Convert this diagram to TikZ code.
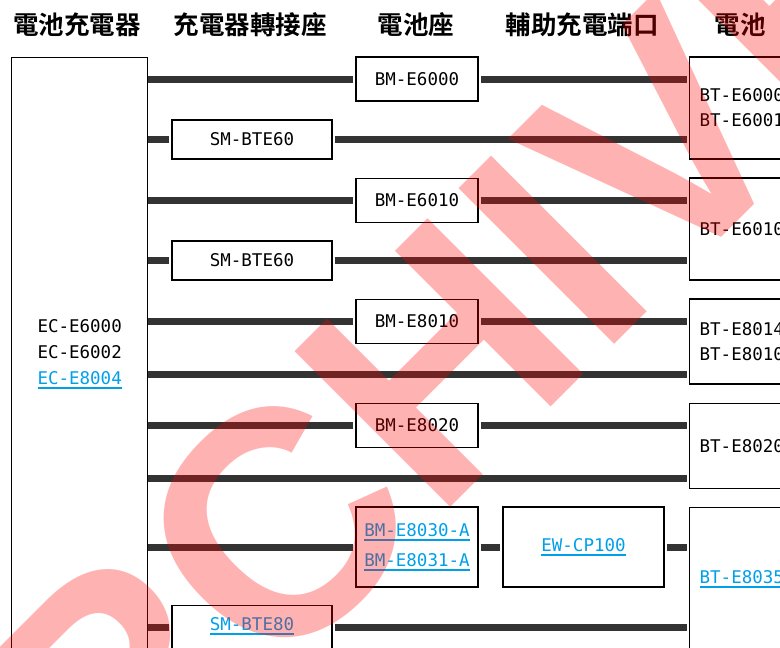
\documentclass[tikz,border=0pt]{standalone}
\usepackage{fontspec}
\newfontfamily\cjkfont{Noto Sans CJK TC}[UprightFont=* Bold]
\newfontfamily\codefont{DejaVu Sans Mono}
\newfontfamily\wmfont{Liberation Sans}[UprightFont=* Bold]
\definecolor{cablegray}{HTML}{333333}
\definecolor{linkblue}{HTML}{00A0E9}
\newcommand\lnk[1]{{\color{linkblue}\setbox0\hbox{#1}\rlap{\rule[-4.5pt]{\wd0}{2pt}}\box0}}
\begin{document}
\begin{tikzpicture}[x=1pt,y=-1pt,
  head/.style={font=\cjkfont\fontsize{25.5}{26}\selectfont, inner sep=0pt},
  part/.style={draw, line width=1.3pt, inner sep=0pt, align=center, font=\codefont\fontsize{17.5}{26}\selectfont},
  bat/.style={part, anchor=west, minimum width=140pt, text width=120pt, inner xsep=10pt, align=left, font=\codefont\fontsize{17.5}{25}\selectfont},
  tag/.style={inner sep=0pt, font=\codefont\fontsize{17.5}{26}\selectfont},
  cable/.style={draw=cablegray, line width=7pt, shorten >=2pt},
  tie/.style={cable, shorten <=2pt}]
  \useasboundingbox (0,0) rectangle (780,648);
  \clip (0,0) rectangle (780,648);
  \foreach \x/\t [count=\i] in {77/電池充電器, 250/充電器轉接座, 416/電池座, 582/輔助充電端口, 740/電池}
    \node[head] (h\i) at (\x,25) {\t};
  \node[part, anchor=north west, minimum width=136pt, minimum height=594pt] (charger) at (11,57) {EC-E6000\\EC-E6002\\\lnk{EC-E8004}};
  \node[part, minimum width=160pt, minimum height=39pt] (bte60a) at (252,139.5) {SM-BTE60};
  \node[part, minimum width=160pt, minimum height=39pt] (bte60b) at (252,260.5) {SM-BTE60};
  \node[part, anchor=north, minimum width=160pt, minimum height=80pt] (bte80) at (252,605) {};
  \node[tag] (bte80t) at (252,626) {\lnk{SM-BTE80}};
  \node[part, minimum width=122pt, minimum height=44pt] (e6000) at (417,79) {BM-E6000};
  \node[part, minimum width=122pt, minimum height=44pt] (e6010) at (417,200.5) {BM-E6010};
  \node[part, minimum width=122pt, minimum height=44pt] (e8010) at (417,321.5) {BM-E8010};
  \node[part, minimum width=122pt, minimum height=44pt] (e8020) at (417,425.5) {BM-E8020};
  \node[part, minimum width=122pt, minimum height=80pt, font=\codefont\fontsize{17.5}{30}\selectfont] (e8030) at (417,547) {\lnk{BM-E8030-A}\\\lnk{BM-E8031-A}};
  \node[part, minimum width=161pt, minimum height=80pt] (cp100) at (583.5,547) {\lnk{EW-CP100}};
  \node[bat, minimum height=102pt] (bt6000) at (689,108) {BT-E6000\\BT-E6001};
  \node[bat, minimum height=102pt] (bt6010) at (689,229) {BT-E6010};
  \node[bat, minimum height=85pt] (bt8014) at (689,341.5) {BT-E8014\\BT-E8010};
  \node[bat, minimum height=85pt] (bt8020) at (689,446) {BT-E8020};
  \node[bat, anchor=north west, minimum height=144pt] (bt8035) at (689,507) {\lnk{BT-E8035}};
  \coordinate (r6) at (0,374);
  \coordinate (r8) at (0,478);
  \coordinate (r10) at (0,627.5);
  \foreach \b/\t in {e6000/bt6000, e6010/bt6010, e8010/bt8014, e8020/bt8020} {
    \draw[cable] (charger.east |- \b.west) -- (\b.west);
    \draw[tie] (\b.east) -- (\b.east -| \t.west);
  }
  \foreach \b/\t in {bte60a/bt6000, bte60b/bt6010} {
    \draw[cable] (charger.east |- \b.west) -- (\b.west);
    \draw[tie] (\b.east) -- (\b.east -| \t.west);
  }
  \draw[cable] (charger.east |- r6) -- (bt8014.west |- r6);
  \draw[cable] (charger.east |- r8) -- (bt8020.west |- r8);
  \draw[cable] (charger.east |- e8030.west) -- (e8030.west);
  \draw[tie] (e8030.east) -- (cp100.west);
  \draw[tie] (cp100.east) -- (cp100.east -| bt8035.west);
  \draw[cable] (charger.east |- r10) -- (bte80.west |- r10);
  \draw[tie] (bte80.east |- r10) -- (bt8035.west |- r10);
  \node[rotate=45, inner sep=0pt, text=red, text opacity=0.3, font=\wmfont\fontsize{320}{320}\selectfont] (stamp) at (377,426) {ARCHIVE};
\end{tikzpicture}
\end{document}
